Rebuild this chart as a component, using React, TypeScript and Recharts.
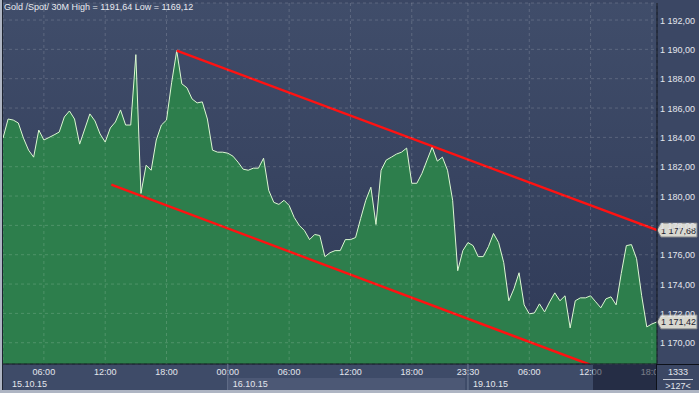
import { AreaChart, Area, XAxis, YAxis, CartesianGrid, ReferenceLine } from 'recharts';

const FONT = '"Liberation Sans", Arial, sans-serif';

// 30M closes, one per bar (index 0 = 15.10.15 02:00)
const prices = [
  1183.95, 1185.25, 1185.18, 1184.98, 1183.95, 1183.13, 1182.65, 1184.5, 1183.82, 1183.99,
  1184.17, 1184.36, 1185.39, 1185.8, 1185.25, 1183.54, 1184.57, 1185.6, 1185.12, 1184.23,
  1183.68, 1184.64, 1185.05, 1185.87, 1184.84, 1184.84, 1189.64, 1180.18, 1182.1, 1181.76,
  1183.82, 1184.84, 1185.18, 1187.72, 1189.91, 1187.65, 1187.38, 1186.62, 1186.35, 1186.42,
  1185.25, 1183.13, 1182.99, 1182.99, 1182.92, 1182.72, 1182.31, 1181.83, 1181.76, 1181.9,
  1181.9, 1182.58, 1180.39, 1179.57, 1179.43, 1179.71, 1179.36, 1178.54, 1177.99, 1177.65,
  1177.03, 1177.38, 1177.31, 1175.87, 1176.14, 1176.28, 1176.28, 1177.03, 1177.03, 1177.17,
  1178.47, 1179.71, 1180.6, 1178.06, 1181.76, 1182.45, 1182.65, 1182.86, 1182.99, 1183.27,
  1180.87, 1180.87, 1181.55, 1182.45, 1183.34, 1182.38, 1182.65, 1181.76, 1179.71, 1174.91,
  1176.28, 1176.83, 1176.62, 1175.87, 1175.87, 1176.55, 1177.45, 1176.83, 1175.46, 1172.86,
  1173.68, 1174.77, 1172.58, 1171.97, 1172.03, 1172.65, 1172.1, 1172.79, 1173.4, 1172.86,
  1173.2, 1171.01, 1172.86, 1173.06, 1173.06, 1173.2, 1172.79, 1172.38, 1172.99, 1173.13,
  1172.58, 1174.71, 1176.62, 1176.69, 1175.73, 1173.2, 1171.08, 1171.28, 1171.42,
];

const timeTicks = [8, 20, 32, 44, 56, 68, 80, 91, 103, 115, 127];
const timeLabels = ['06:00', '12:00', '18:00', '00:00', '06:00', '12:00', '18:00', '23:30', '06:00', '12:00', '18:00'];
const dateTicks = [0, 44, 91];
const dateLabels = ['15.10.15', '16.10.15', '19.10.15'];
const priceTicks = [1170, 1172, 1174, 1176, 1178, 1180, 1182, 1184, 1186, 1188, 1190, 1192];

const upperTrend = [{ i: 34, v: 1189.91 }, { i: 128, v: 1177.68 }];
const lowerTrend = [{ i: 21.2, v: 1180.78 }, { i: 114.9, v: 1168.5 }];
const tagPrices = [1177.68, 1171.42];

const data = prices.map((v, i) => ({ i, v }));

// "1 192,00" with a non-breaking space so the axis text never wraps
const fmt = (n: number) =>
  n.toFixed(2).replace('.', ',').replace(/\B(?=(\d{3})+(?!\d))/g, '\u00A0');

function DateTick({ x, y, payload }: any) {
  const idx = dateTicks.indexOf(payload.value);
  return (
    <g>
      {payload.value > 0 && <line x1={x} x2={x} y1={y - 14} y2={y + 12} stroke="#6f7b95" />}
      <text x={Math.max(x + 5, 12)} y={y + 8.5} fill="#e3e6ed" fontSize={9} fontFamily={FONT}>
        {dateLabels[idx]}
      </text>
    </g>
  );
}

function PriceTick({ x, y, payload }: any) {
  return (
    <text x={x} y={y + 3.5} fill="#e3e6ed" fontSize={9} fontFamily={FONT}>
      {fmt(payload.value)}
    </text>
  );
}

const priceTag = (value: number) => (props: any) => {
  const vb = props.viewBox;
  const x0 = vb.x + vb.width;
  const cy = vb.y;
  return (
    <g>
      <polygon
        points={`${x0},${cy} ${x0 + 4},${cy - 7} ${x0 + 40},${cy - 7} ${x0 + 40},${cy + 7} ${x0 + 4},${cy + 7}`}
        fill="#d8d8cf"
        stroke="#7c7f86"
      />
      <text x={x0 + 4} y={cy + 3.5} fill="#1e2230" fontSize={9} fontFamily={FONT}>
        {fmt(value)}
      </text>
    </g>
  );
};

export default function App() {
  return (
    <div style={{ position: 'relative', width: 699, height: 393, background: '#3b4764', overflow: 'hidden', fontFamily: FONT }}>
      <style>{`body{margin:0}`}</style>

      {/* backgrounds */}
      <div style={{ position: 'absolute', left: 3, top: 3, width: 654, height: 361, background: 'linear-gradient(#404d6a, #2f3a57)' }} />
      <div style={{ position: 'absolute', left: 3, top: 364, width: 654, height: 27, background: '#3e4b68' }} />
      <div style={{ position: 'absolute', left: 229, top: 378, width: 236, height: 13, background: '#4c5875' }} />

      <div style={{ position: 'absolute', left: 0, top: 0 }}>
        <AreaChart width={699} height={393} data={data} margin={{ top: 3, right: 0, bottom: 0, left: 3 }}>
          <Area
            dataKey="v"
            type="linear"
            stroke="#dcf8d2"
            strokeWidth={1}
            fill="#2d7e4c"
            fillOpacity={1}
            dot={false}
            activeDot={false}
            isAnimationActive={false}
          />
          <CartesianGrid stroke="rgba(255,255,255,0.16)" strokeDasharray="3 3" zIndex={500} />
          <XAxis
            dataKey="i"
            type="number"
            domain={[0, 128]}
            ticks={timeTicks}
            interval={0}
            allowDataOverflow
            height={14}
            tickSize={0}
            tickMargin={5}
            tickLine={false}
            axisLine={{ stroke: '#0d1119' }}
            tick={{ fill: '#e3e6ed', fontSize: 9, fontFamily: FONT }}
            tickFormatter={(v: number) => timeLabels[timeTicks.indexOf(v)]}
          />
          <XAxis
            xAxisId="date"
            dataKey="i"
            type="number"
            domain={[0, 128]}
            ticks={dateTicks}
            interval={0}
            allowDataOverflow
            height={15}
            tickSize={0}
            tickMargin={0}
            tickLine={false}
            axisLine={false}
            tick={<DateTick />}
          />
          <YAxis
            orientation="right"
            type="number"
            width={42}
            domain={[1168.55, 1193.16]}
            ticks={priceTicks}
            interval={0}
            allowDataOverflow
            tickSize={0}
            tickMargin={3}
            tickLine={false}
            axisLine={{ stroke: '#0d1119' }}
            tick={<PriceTick />}
          />
          <ReferenceLine
            segment={[{ x: upperTrend[0].i, y: upperTrend[0].v }, { x: upperTrend[1].i, y: upperTrend[1].v }]}
            stroke="#ff1212"
            strokeWidth={2.4}
            ifOverflow="hidden"
          />
          <ReferenceLine
            segment={[{ x: lowerTrend[0].i, y: lowerTrend[0].v }, { x: lowerTrend[1].i, y: lowerTrend[1].v }]}
            stroke="#ff1212"
            strokeWidth={2.4}
            ifOverflow="hidden"
          />
          {tagPrices.map((p) => (
            <ReferenceLine key={p} y={p} stroke="none" ifOverflow="visible" label={priceTag(p)} />
          ))}
        </AreaChart>
      </div>

      {/* dimmed tail of the time axis */}
      <div style={{ position: 'absolute', left: 593, top: 365, width: 64, height: 26, background: 'rgba(12,16,34,0.5)' }} />

      {/* bar counter box */}
      <div
        style={{
          position: 'absolute', left: 656, top: 364, width: 43, height: 27, background: '#3b4764',
          borderLeft: '1px solid #0d1119', borderTop: '1px solid #0d1119', boxSizing: 'border-box',
          color: '#e3e6ed', fontSize: 9, textAlign: 'center',
        }}
      >
        <div style={{ marginTop: 2, lineHeight: '10px' }}>1333</div>
        <div style={{ margin: '2px 6px 0', borderTop: '1px solid #c9ced8' }} />
        <div style={{ lineHeight: '10px', marginTop: 1 }}>&gt;127&lt;</div>
      </div>

      {/* frame */}
      <div style={{ position: 'absolute', left: 0, top: 0, width: 2, height: 393, background: '#aeb5c3' }} />
      <div style={{ position: 'absolute', left: 2, top: 0, width: 1, height: 391, background: '#1d2330' }} />
      <div style={{ position: 'absolute', left: 0, top: 390, width: 699, height: 3, background: '#aeb5c3' }} />

      <div style={{ position: 'absolute', left: 4, top: 2, color: '#e8eaf0', fontSize: 9, whiteSpace: 'nowrap' }}>
        Gold /Spot/ 30M High = 1191,64 Low = 1169,12
      </div>
    </div>
  );
}
